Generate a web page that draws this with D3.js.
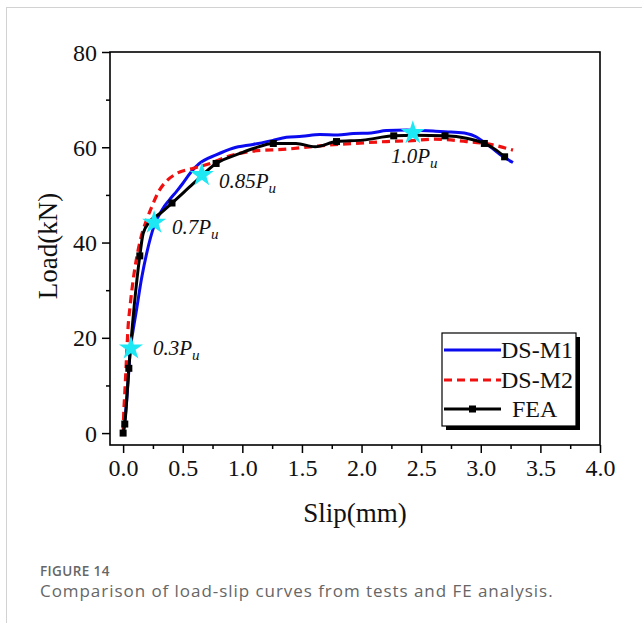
<!DOCTYPE html>
<html><head><meta charset="utf-8">
<script src="https://cdn.jsdelivr.net/npm/d3@7"></script>
<style>
html,body{margin:0;padding:0;background:#fff;}
body{width:642px;height:623px;overflow:hidden;position:relative;}
.card{position:absolute;left:6px;top:7px;width:700px;height:700px;border-left:1.5px solid #d2d2d2;border-top:1.5px solid #d2d2d2;}
.fig{position:absolute;left:40px;top:562px;font-family:"Open Sans","Noto Sans",sans-serif;color:#666;}
.fig .t{font-size:13.5px;font-weight:600;line-height:18px;letter-spacing:0.4px;}
.fig .c{font-size:17px;line-height:22px;font-weight:400;letter-spacing:0.95px;}
svg{position:absolute;left:0;top:0;}
</style></head>
<body>
<div class="card"></div>
<svg id="chart" width="642" height="560"></svg>
<div class="fig"><div class="t">FIGURE 14</div><div class="c">Comparison of load-slip curves from tests and FE analysis.</div></div>
<script>
// ---- data ----
const xTicks = [0.0,0.5,1.0,1.5,2.0,2.5,3.0,3.5,4.0];
const yTicks = [0,20,40,60,80];
const seriesNames = ["DS-M1","DS-M2","FEA"];
const dsM1 = [[0,0],[0.02,4],[0.045,12],[0.06,17.5],[0.08,21],[0.11,25.5],[0.155,32.5],[0.2,38],[0.26,43.5],[0.33,47],[0.39,49],[0.45,50.8],[0.5,52.4],[0.57,54.8],[0.64,56.6],[0.78,58.4],[0.92,59.8],[1.09,60.6],[1.25,61.4],[1.37,62.1],[1.5,62.3],[1.65,62.7],[1.8,62.6],[1.93,62.9],[2.08,63.0],[2.21,63.5],[2.38,63.6],[2.5,63.5],[2.6,63.4],[2.75,63.2],[2.88,62.9],[2.96,62.2],[3.02,61.2],[3.08,60.1],[3.19,58.0],[3.27,56.8]];
const dsM2 = [[0,0],[0.005,4],[0.014,8.4],[0.027,15],[0.04,21.6],[0.06,27],[0.084,32.1],[0.126,38.4],[0.16,42],[0.196,44.7],[0.24,47.5],[0.3,50.8],[0.36,52.8],[0.45,54.5],[0.59,55.6],[0.73,56.6],[0.87,58.0],[1.09,59.2],[1.37,59.6],[1.65,60.3],[1.93,60.8],[2.21,61.2],[2.43,61.4],[2.6,61.7],[2.88,61.2],[3.1,60.5],[3.27,59.4]];
const fea = [[0,0],[0.014,1.9],[0.048,13.6],[0.14,37.2],[0.168,41.9],[0.22,44.3],[0.31,46.1],[0.41,48.3],[0.59,52.4],[0.78,56.6],[0.98,58.7],[1.1,59.8],[1.26,60.8],[1.45,60.8],[1.61,60.1],[1.79,61.2],[2.01,61.5],[2.27,62.4],[2.45,62.5],[2.7,62.4],[2.88,61.9],[3.03,60.8],[3.13,59.4],[3.2,58.0]];
const feaMarkers = [[0,0],[0.014,1.9],[0.048,13.6],[0.14,37.2],[0.41,48.3],[0.78,56.6],[1.26,60.8],[1.79,61.2],[2.27,62.4],[2.7,62.4],[3.03,60.8],[3.2,58.0]];
const starPts = [[0.066,17.8],[0.26,44.2],[0.66,54.2],[2.43,63.0]];
const starLabels = ["0.3","0.7","0.85","1.0"];

// ---- chart ----
const svg = d3.select("#chart");
const L=110,R=600,T=52,B=445;
const x = d3.scaleLinear().domain([-0.11,4.0]).range([L,R]);
const y = d3.scaleLinear().domain([-2.5,80]).range([B,T]);
const serif = '"Liberation Serif","Times New Roman",serif';

const xMinor = d3.range(0.25,4,0.5);
const yMinor = [10,30,50,70];
const gx = svg.append("g").attr("transform",`translate(0,${B})`)
  .call(d3.axisBottom(x).tickValues(xTicks).tickFormat(d3.format(".1f")).tickSize(8).tickPadding(5));
const gxm = svg.append("g").attr("transform",`translate(0,${B})`)
  .call(d3.axisBottom(x).tickValues(xMinor).tickFormat("").tickSize(4));
const gy = svg.append("g").attr("transform",`translate(${L},0)`)
  .call(d3.axisLeft(y).tickValues(yTicks).tickSize(8).tickPadding(5));
const gym = svg.append("g").attr("transform",`translate(${L},0)`)
  .call(d3.axisLeft(y).tickValues(yMinor).tickFormat("").tickSize(4));
[gx,gxm,gy,gym].forEach(g=>{
  g.select(".domain").remove();
  g.selectAll(".tick line").attr("stroke","#000").attr("stroke-width",1.5);
  g.selectAll("text").attr("font-family",serif).attr("fill","#111");
});
gx.selectAll("text").attr("font-size",24).attr("dy","0.75em");
gy.selectAll("text").attr("font-size",24).attr("dy","0.34em");

svg.append("rect").attr("x",L).attr("y",T).attr("width",R-L).attr("height",B-T)
  .attr("fill","none").attr("stroke","#000").attr("stroke-width",1.6);

svg.append("text").attr("x",(L+R)/2).attr("y",522).attr("text-anchor","middle")
  .attr("font-family",serif).attr("font-size",27).attr("fill","#111").text("Slip(mm)");
svg.append("text").attr("transform","translate(57,246) rotate(-90)").attr("text-anchor","middle")
  .attr("font-family",serif).attr("font-size",27).attr("fill","#111").text("Load(kN)");

const line = d3.line().x(d=>x(d[0])).y(d=>y(d[1])).curve(d3.curveMonotoneX);
const g = svg.append("g");
g.append("path").datum(dsM1).attr("d",line).attr("fill","none").attr("stroke","#0b0bf0").attr("stroke-width",3);
g.append("path").datum(dsM2).attr("d",line).attr("fill","none").attr("stroke","#f01010").attr("stroke-width",3.2).attr("stroke-dasharray","8,5");
g.append("path").datum(fea).attr("d",line).attr("fill","none").attr("stroke","#000").attr("stroke-width",3);
g.selectAll("rect.m").data(feaMarkers).join("rect").attr("class","m")
  .attr("x",d=>x(d[0])-3.5).attr("y",d=>y(d[1])-3.5).attr("width",7).attr("height",7).attr("fill","#000");

const star = d3.symbol().type(d3.symbolStar).size(180);
svg.selectAll("path.star").data(starPts).join("path").attr("class","star")
  .attr("transform",d=>`translate(${x(d[0])},${y(d[1])})`).attr("d",star).attr("fill","#1ee8f4");

const labPos = [[153,355],[172,234],[219,188],[391,163]];
starLabels.forEach((s,i)=>{
  const t = svg.append("text").attr("x",labPos[i][0]).attr("y",labPos[i][1])
    .attr("font-family",serif).attr("font-style","italic").attr("font-size",21).attr("fill","#111");
  t.append("tspan").text(s+"P");
  t.append("tspan").attr("font-size",15).attr("dy",5).text("u");
});

const lg = svg.append("g");
lg.append("rect").attr("x",446).attr("y",337).attr("width",134).attr("height",93).attr("fill","#000");
lg.append("rect").attr("x",442).attr("y",333).attr("width",134).attr("height",93).attr("fill","#fff").attr("stroke","#000").attr("stroke-width",1.2);
const legY=[350,380,409];
const legStyle=[{c:"#0b0bf0",dash:null},{c:"#f01010",dash:"8,5"},{c:"#000",dash:null}];
seriesNames.forEach((n,i)=>{
  lg.append("line").attr("x1",444).attr("x2",501).attr("y1",legY[i]).attr("y2",legY[i])
    .attr("stroke",legStyle[i].c).attr("stroke-width",3).attr("stroke-dasharray",legStyle[i].dash);
  lg.append("text").attr("x",i===2?512:501).attr("y",legY[i]+8).attr("font-family",serif)
    .attr("font-size",24).attr("fill","#111").text(n);
});
lg.append("rect").attr("x",472.5-3.5).attr("y",409-3.5).attr("width",7).attr("height",7).attr("fill","#000");
</script>
</body></html>
